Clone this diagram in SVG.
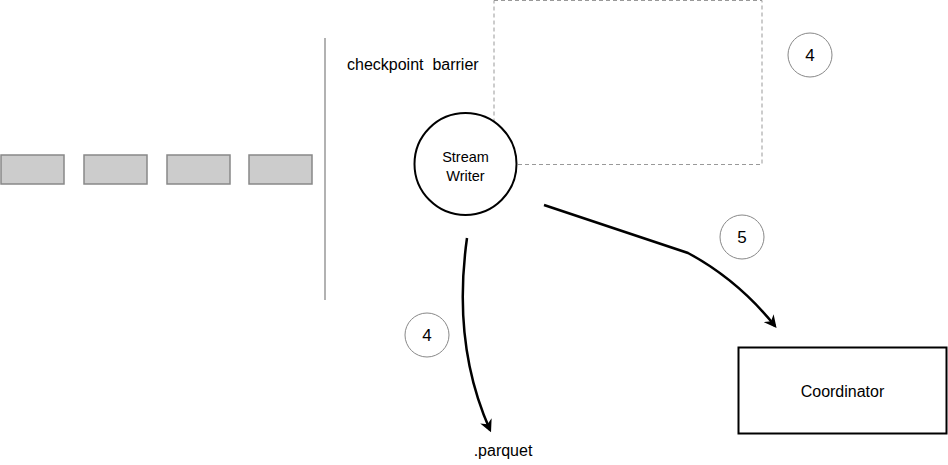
<svg xmlns="http://www.w3.org/2000/svg" width="948" height="465" viewBox="0 0 948 465">
<style>
.q{fill:#cccccc;stroke:#888888;stroke-width:1.5}
.t{font-family:"Liberation Sans",Arial,sans-serif;fill:#000}
.num{fill:#fff;stroke:#888;stroke-width:1}
.c{fill:none;stroke:#000;stroke-width:2.5}
</style>
<defs>
<marker id="ah" viewBox="0 0 10 10" refX="8" refY="5" markerWidth="5" markerHeight="5" orient="auto" markerUnits="strokeWidth">
<path d="M0,0 L10,5 L0,10 L3,5 z" fill="#000"/>
</marker>
</defs>
<rect width="948" height="465" fill="#fff"/>
<g id="queue">
<rect class="q" x="1" y="155" width="63" height="29"/>
<rect class="q" x="84" y="155" width="63" height="29"/>
<rect class="q" x="167" y="155" width="63" height="29"/>
<rect class="q" x="249" y="155" width="63" height="29"/>
</g>
<g id="barrier">
<line x1="325" y1="38" x2="325" y2="300" stroke="#999" stroke-width="1.5"/>
<text class="t" x="347" y="70" font-size="16" xml:space="preserve">checkpoint  barrier</text>
</g>
<g id="snapshot">
<rect x="494" y="0.5" width="268" height="164" fill="none" stroke="#999" stroke-width="1" stroke-dasharray="4,3"/>
</g>
<g id="connectors">
<path class="c" d="M467 238 Q452 345 490 430" marker-end="url(#ah)"/>
<path class="c" d="M544 205 L688 253 Q738 280 775 326" marker-end="url(#ah)"/>
</g>
<g id="writer">
<circle cx="465.5" cy="164" r="51" fill="#fff" stroke="#000" stroke-width="2"/>
<text class="t" x="465.5" y="162" font-size="14.5" text-anchor="middle">Stream</text>
<text class="t" x="465.5" y="181" font-size="14.5" text-anchor="middle">Writer</text>
</g>
<g id="step4a">
<circle class="num" cx="810" cy="55" r="22"/>
<text class="t" x="810" y="61" font-size="17" text-anchor="middle">4</text>
</g>
<g id="step5">
<circle class="num" cx="742" cy="237" r="22"/>
<text class="t" x="742" y="243" font-size="17" text-anchor="middle">5</text>
</g>
<g id="step4b">
<circle class="num" cx="427" cy="335" r="22"/>
<text class="t" x="427" y="341" font-size="17" text-anchor="middle">4</text>
</g>
<g id="coordinator">
<rect x="738.5" y="347.5" width="208" height="86" fill="#fff" stroke="#000" stroke-width="2"/>
<text class="t" x="842.5" y="397" font-size="16" text-anchor="middle">Coordinator</text>
</g>
<g id="parquet">
<text class="t" x="503" y="456" font-size="16" text-anchor="middle">.parquet</text>
</g>
</svg>
